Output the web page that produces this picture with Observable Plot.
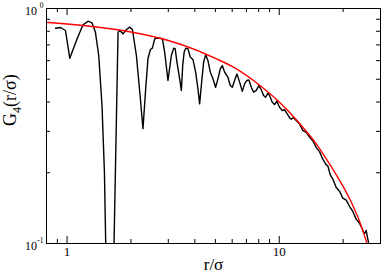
<!DOCTYPE html>
<html><head><meta charset="utf-8">
<script src="https://cdn.jsdelivr.net/npm/d3@7"></script>
<script src="https://cdn.jsdelivr.net/npm/@observablehq/plot@0.6"></script>
<style>html,body{margin:0;padding:0;background:#fff;}</style>
</head><body><div id="chart"></div>
<script>
// black curve (noisy data), r/sigma and G4
const blackR = [0.882,0.931,0.983,1.030,1.115,1.189,1.255,1.311,1.360,1.410,1.461,1.500,1.554,1.623,
  1.739,1.771,1.835,1.905,1.973,2.032,2.122,2.216,2.279,2.347,2.406,2.470,2.524,2.588,2.636,2.733,2.814,2.884,2.989,
  3.101,3.179,3.232,3.295,3.393,3.456,3.508,3.563,3.622,3.713,3.811,3.919,4.036,4.138,4.215,4.293,4.401,4.498,4.611,
  4.733,4.869,5.013,5.140,5.275,5.391,5.527,5.728,5.879,6.008,6.159,6.315,6.503,6.696,6.865,7.039,7.193,7.383,7.568,
  7.793,8.017,8.228,8.435,8.620,8.837,9.002,9.268,9.504,9.743,10.03,10.33,10.59,10.86,11.18,11.39,11.68,12.02,12.46,
  12.91,13.40,13.89,14.40,14.94,15.48,16.05,16.65,16.94,17.39,17.88,18.55,19.23,19.93,20.68,21.43,22.21,23.04,23.88,
  24.59,25.21,25.68,26.13,26.33];
const blackG = [0.824,0.830,0.806,0.614,0.743,0.852,0.883,0.869,0.793,0.631,0.387,0.201,0.034,0.030,
  0.793,0.806,0.780,0.814,0.833,0.814,0.631,0.413,0.308,0.455,0.611,0.669,0.678,0.743,0.747,0.747,0.743,0.652,0.494,
  0.631,0.678,0.674,0.591,0.502,0.448,0.572,0.652,0.678,0.674,0.620,0.607,0.536,0.455,0.393,0.470,0.591,0.635,0.601,
  0.536,0.502,0.462,0.502,0.554,0.572,0.536,0.510,0.470,0.462,0.494,0.527,0.486,0.444,0.478,0.494,0.497,0.462,0.440,
  0.448,0.470,0.451,0.426,0.419,0.436,0.426,0.399,0.390,0.403,0.380,0.368,0.371,0.358,0.343,0.338,0.343,0.334,0.323,
  0.303,0.297,0.284,0.273,0.256,0.246,0.228,0.216,0.214,0.196,0.188,0.173,0.167,0.156,0.153,0.144,0.137,0.127,0.122,
  0.1155,0.110,0.1136,0.1047,0.1013];
// red curve (fit)
const redR = [0.8,1,1.5,2,3,4,5,6,8,10,12,15,18,20,22,24,26];
const redG = [0.873,0.859,0.826,0.794,0.731,0.669,0.613,0.567,0.475,0.400,0.337,0.264,0.205,0.175,0.148,0.123,0.099];

const xMajorTicks = [1, 10];
const xMinorTicks = [0.9, 2, 3, 4, 5, 6, 7, 8, 9, 20];
const yMinorTicks = [0.2, 0.3, 0.4, 0.5, 0.6, 0.7, 0.8, 0.9];
const xTickLabels = ["1", "10"];
const yTickValues = [1, 0.1];
const yTickBase = ["10", "10"];
const yTickExp = ["0", "-1"];
const xTitle = "r/σ";
const yTitleParts = ["G", "4", "(r/σ)"];

const W = 382, H = 273;
const mL = 46, mR = 2, mT = 8, mB = 30;
const fw = W - mL - mR, fh = H - mT - mB;
const major = 7, minor = 4;

const black = blackR.map((r, i) => ({r, g: blackG[i]}));
const red = redR.map((r, i) => ({r, g: redG[i]}));
const yLab = yTickValues.map((v, i) => ({v, base: yTickBase[i], exp: yTickExp[i]}));
const xLab = xMajorTicks.map((v, i) => ({v, t: xTickLabels[i]}));

const chart = Plot.plot({
  width: W, height: H,
  marginLeft: mL, marginRight: mR, marginTop: mT, marginBottom: mB,
  style: {fontFamily: "'Liberation Serif', serif", background: "white", color: "black", overflow: "visible"},
  x: {type: "log", domain: [0.8, 30], axis: null},
  y: {type: "log", domain: [0.1, 1], axis: null},
  marks: [
    Plot.line(black, {x: "r", y: "g", stroke: "black", strokeWidth: 1.4, clip: true}),
    Plot.line(red, {x: "r", y: "g", stroke: "#ff0000", strokeWidth: 1.4, curve: "monotone-x", clip: true}),
    Plot.frame({stroke: "black", strokeWidth: 1}),
    // inward ticks bottom / top
    Plot.tickX(xMajorTicks, {x: d => d, insetTop: fh - major, stroke: "black"}),
    Plot.tickX(xMinorTicks, {x: d => d, insetTop: fh - minor, stroke: "black"}),
    Plot.tickX(xMajorTicks, {x: d => d, insetBottom: fh - major, stroke: "black"}),
    Plot.tickX(xMinorTicks, {x: d => d, insetBottom: fh - minor, stroke: "black"}),
    // inward ticks left / right
    Plot.tickY(yMinorTicks, {y: d => d, insetRight: fw - minor, stroke: "black"}),
    Plot.tickY(yMinorTicks, {y: d => d, insetLeft: fw - minor, stroke: "black"}),
    // tick labels
    Plot.text(xLab, {x: "v", text: "t", frameAnchor: "bottom", dy: 8, lineAnchor: "middle", fontSize: 13}),
    Plot.text(yLab, {y: "v", text: "base", frameAnchor: "left", dx: -9.5, dy: 3, textAnchor: "end", lineAnchor: "middle", fontSize: 12}),
    Plot.text(yLab, {y: "v", text: "exp", frameAnchor: "left", dx: -3, dy: -2.5, textAnchor: "end", lineAnchor: "middle", fontSize: 7.5}),
    // axis titles
    Plot.text([xTitle], {frameAnchor: "bottom", dy: 21.5, lineAnchor: "middle", fontSize: 17}),
    Plot.text([yTitleParts.join("")], {frameAnchor: "left", dx: -36, rotate: -90, lineAnchor: "middle", fontSize: 18})
  ]
});

// subscript in y title
d3.select(chart).selectAll("text").filter(function() { return this.textContent === yTitleParts.join(""); })
  .each(function() {
    const t = d3.select(this);
    t.text(null);
    t.append("tspan").text(yTitleParts[0]);
    t.append("tspan").attr("font-size", 12).attr("dy", 5).text(yTitleParts[1]);
    t.append("tspan").attr("dy", -5).text(yTitleParts[2]);
  });

document.getElementById("chart").appendChild(chart);
</script>
</body></html>
